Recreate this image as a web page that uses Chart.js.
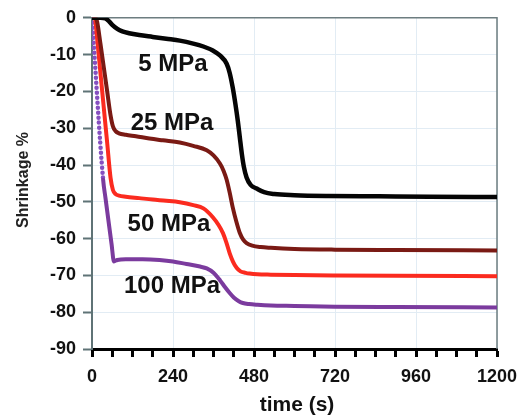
<!DOCTYPE html>
<html>
<head>
<meta charset="utf-8">
<script src="https://cdn.jsdelivr.net/npm/chart.js@4"></script>
<style>
  html, body { margin: 0; padding: 0; background: #ffffff; }
  #wrap { width: 530px; height: 416px; }
</style>
</head>
<body>
<div id="wrap"><canvas id="c" width="530" height="416"></canvas></div>
<script>
// Shrinkage (%) versus time (s) under four applied pressures
const t5   = [0, 25, 40, 50, 60, 75, 90, 110, 140, 180, 220, 260, 300, 330, 358, 380, 399, 408, 417, 425, 432, 438, 444, 450, 458, 470, 488, 510, 540, 600, 700, 850, 1000, 1200];
const v5   = [0, 0, -0.2, -0.9, -1.9, -3.0, -3.7, -4.2, -4.7, -5.2, -5.7, -6.2, -7.0, -7.8, -8.9, -10.3, -12.5, -15.0, -19, -23.5, -28, -32.5, -37, -40.5, -43.4, -45.4, -46.4, -47.4, -47.9, -48.2, -48.4, -48.5, -48.6, -48.7];

const t25  = [0, 10, 15, 25, 35, 45, 55, 62, 70, 80, 100, 130, 170, 210, 260, 300, 340, 360, 379, 390, 399, 408, 417, 428, 438, 448, 458, 475, 500, 530, 600, 720, 900, 1200];
const v25  = [0, 0, -1, -7, -13.5, -20, -26.5, -29.5, -30.8, -31.4, -31.8, -32.2, -32.8, -33.3, -33.9, -34.8, -36, -37.4, -39.6, -41.6, -44, -47.5, -51.5, -55.5, -58.5, -60.3, -61.2, -61.9, -62.3, -62.5, -62.8, -63.0, -63.1, -63.2];

const t50  = [0, 8, 15, 25, 35, 45, 55, 62, 70, 80, 100, 140, 180, 220, 260, 300, 330, 358, 375, 388, 398, 408, 418, 429, 440, 455, 467, 490, 530, 600, 720, 900, 1200];
const v50  = [0, 0, -5.5, -15, -24.5, -34, -43.5, -46.8, -47.9, -48.3, -48.6, -49.0, -49.4, -49.7, -50.1, -50.9, -51.8, -54.2, -56.3, -58.5, -61, -64, -66.3, -68, -68.9, -69.3, -69.5, -69.7, -69.8, -69.9, -70.0, -70.1, -70.2];

const t100 = [0, 33, 40, 50, 58, 65, 75, 100, 150, 200, 240, 280, 320, 340, 360, 379, 395, 408, 420, 435, 447, 465, 490, 530, 600, 720, 900, 1200];
const v100 = [0, -44, -49, -56, -61.5, -66.2, -65.8, -65.6, -65.6, -65.8, -66.2, -66.9, -67.6, -68.1, -69.3, -71.3, -73.3, -74.8, -76.0, -77.0, -77.5, -77.8, -78.0, -78.2, -78.3, -78.5, -78.6, -78.7];

// initial fast stage of the 100 MPa run is drawn dotted
const dottedUntil100 = 33;

const seriesNames = ['5 MPa', '25 MPa', '50 MPa', '100 MPa'];
// where each pressure label sits, in data units (time, shrinkage)
const labelTime  = [240, 237, 228, 237];
const labelValue = [-12.7, -28.7, -56.1, -72.9];

const xTicks = [0, 240, 480, 720, 960, 1200];

const FONT = '"Liberation Sans", Arial, Helvetica, sans-serif';

const toPoints = (ts, vs) => ts.map((t, i) => ({ x: t, y: vs[i] }));

const frameAndText = {
  id: 'frameAndText',
  beforeDatasetsDraw(chart) {
    const { ctx, chartArea: a } = chart;
    ctx.save();
    ctx.strokeStyle = '#6d7d80';
    ctx.lineWidth = 1.5;
    ctx.beginPath();
    ctx.moveTo(a.left, a.top);
    ctx.lineTo(a.right, a.top);
    ctx.lineTo(a.right, a.bottom);
    ctx.stroke();
    ctx.restore();
  },
  afterDraw(chart) {
    const { ctx, scales } = chart;
    ctx.save();
    ctx.fillStyle = '#111111';
    ctx.textAlign = 'center';
    ctx.textBaseline = 'middle';
    ctx.font = 'bold 24px ' + FONT;
    seriesNames.forEach((name, i) => {
      ctx.fillText(name, scales.x.getPixelForValue(labelTime[i]), scales.y.getPixelForValue(labelValue[i]));
    });
    ctx.font = 'bold 21px ' + FONT;
    ctx.fillText('time (s)', 297, 405);
    ctx.translate(24, 180);
    ctx.rotate(-Math.PI / 2);
    ctx.font = 'bold 16px ' + FONT;
    ctx.fillStyle = '#222222';
    ctx.fillText('Shrinkage %', 0, 0);
    ctx.restore();
  }
};

const line = (label, pts, color, width, extra) => Object.assign({
  label, data: pts, borderColor: color, borderWidth: width,
  pointRadius: 0, fill: false, cubicInterpolationMode: 'monotone',
  borderCapStyle: 'round', borderJoinStyle: 'round'
}, extra || {});

new Chart(document.getElementById('c'), {
  type: 'line',
  data: {
    datasets: [
      line('5 MPa', toPoints(t5, v5), '#050505', 4.5),
      line('25 MPa', toPoints(t25, v25), '#7a1a14', 4),
      line('50 MPa', toPoints(t50, v50), '#fb2b1f', 4),
      line('100 MPa', toPoints(t100, v100), '#7b3b9e', 4, {
        segment: {
          borderDash: c => c.p1.parsed.x <= dottedUntil100 ? [0, 5] : undefined,
          borderColor: c => c.p1.parsed.x <= dottedUntil100 ? '#8550c0' : undefined,
          borderWidth: c => c.p1.parsed.x <= dottedUntil100 ? 4.5 : undefined
        }
      })
    ]
  },
  options: {
    responsive: false,
    animation: false,
    layout: { padding: { top: 17, right: 33, left: 0, bottom: 0 } },
    plugins: { legend: { display: false }, tooltip: { enabled: false } },
    scales: {
      x: {
        type: 'linear', min: 0, max: 1200,
        afterFit: s => { s.height = 67; },
        border: { color: '#000000', width: 3 },
        grid: {
          color: c => (c.tick && xTicks.includes(c.tick.value)) ? '#e2ecf4' : 'rgba(0,0,0,0)',
          lineWidth: 1,
          tickColor: '#000000', tickWidth: 3, tickLength: 8
        },
        ticks: {
          stepSize: 60, autoSkip: false, maxRotation: 0, padding: 9,
          color: '#111111',
          font: { family: FONT, size: 18, weight: 'bold' },
          callback: v => xTicks.includes(v) ? String(v) : ''
        }
      },
      y: {
        type: 'linear', min: -90, max: 0,
        afterFit: s => { s.width = 92; },
        border: { color: '#5f7376', width: 2 },
        grid: {
          color: '#e2ecf4', lineWidth: 1,
          tickColor: '#5f7376', tickWidth: 2, tickLength: 9
        },
        ticks: {
          stepSize: 10, padding: 7,
          color: '#111111',
          font: { family: FONT, size: 18, weight: 'bold' }
        }
      }
    }
  },
  plugins: [frameAndText]
});
</script>
</body>
</html>
